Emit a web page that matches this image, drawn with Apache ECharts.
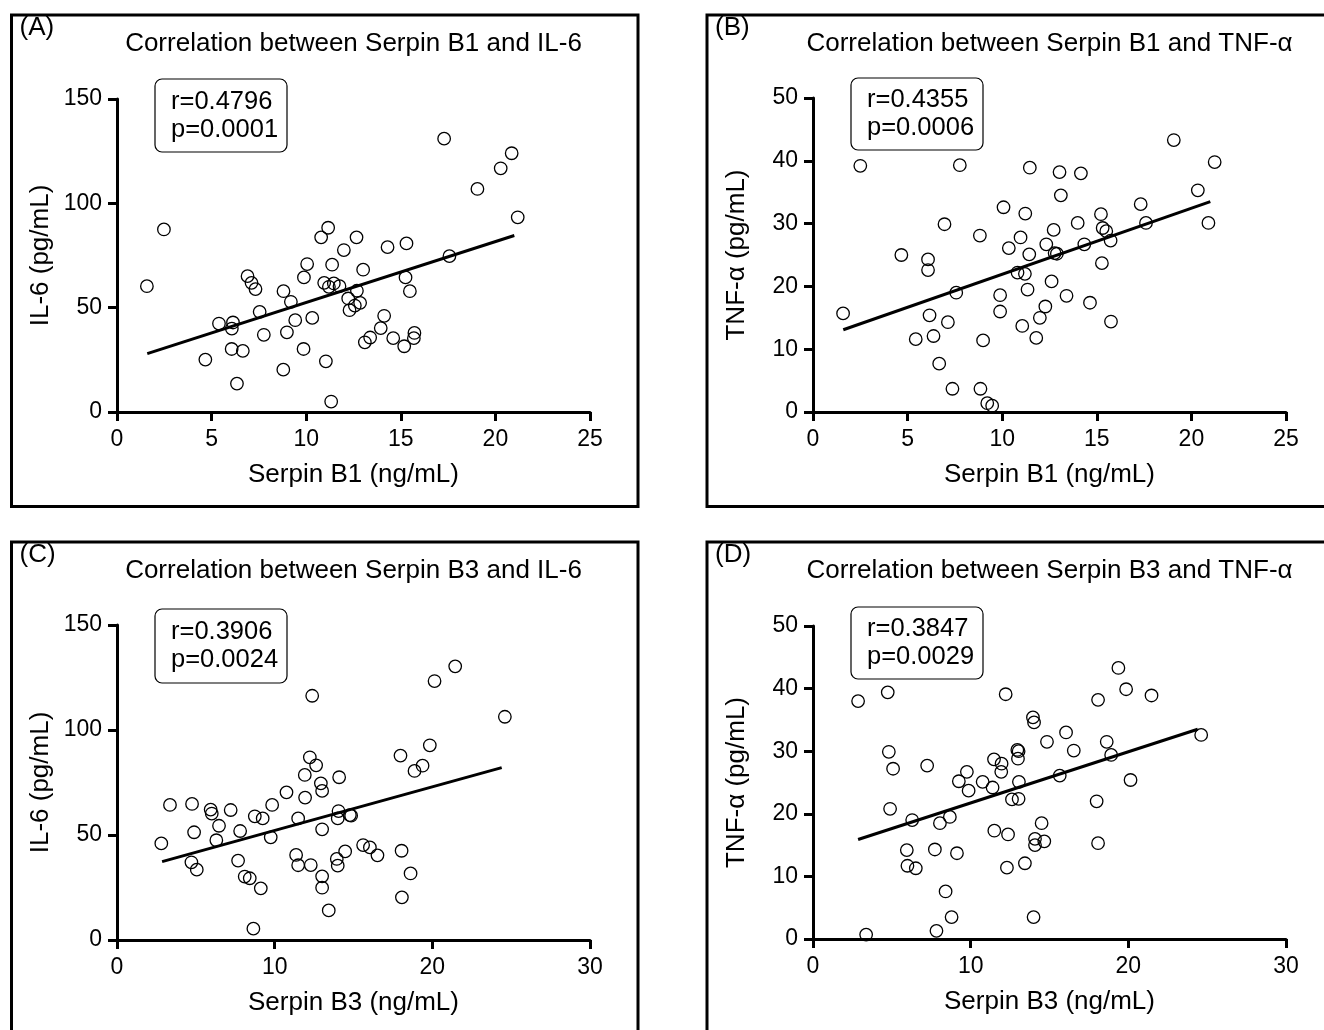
<!DOCTYPE html>
<html><head><meta charset="utf-8">
<script src="https://cdn.jsdelivr.net/npm/echarts@6/dist/echarts.min.js"></script>
<style>html,body{margin:0;padding:0;background:#fff}#c{width:1324px;height:1030px}</style>
</head><body><div id="c"></div><script>
// ---------- DATA ----------
const panelLabels = ['(A)', '(B)', '(C)', '(D)'];
const titles = ['Correlation between Serpin B1 and IL-6', 'Correlation between Serpin B1 and TNF-\u03b1',
                'Correlation between Serpin B3 and IL-6', 'Correlation between Serpin B3 and TNF-\u03b1'];
const xNames = ['Serpin B1 (ng/mL)', 'Serpin B1 (ng/mL)', 'Serpin B3 (ng/mL)', 'Serpin B3 (ng/mL)'];
const yNames = ['IL-6 (pg/mL)', 'TNF-\u03b1 (pg/mL)', 'IL-6 (pg/mL)', 'TNF-\u03b1 (pg/mL)'];
const statsText = ['r=0.4796\np=0.0001', 'r=0.4355\np=0.0006', 'r=0.3906\np=0.0024', 'r=0.3847\np=0.0029'];
const xMax = [25, 25, 30, 30];
const xInterval = [5, 5, 10, 10];
const yMax = [150, 50, 150, 50];
const yInterval = [50, 10, 50, 10];

// Panel A: Serpin B1 vs IL-6
const aX = [1.58,2.48,17.29,20.86,20.28,19.05,21.18,11.16,10.79,12.66,11.99,14.30,15.30,17.57,10.05,11.37,13.01,9.88,6.90,7.11,7.32,15.25,10.95,11.20,11.46,11.76,8.80,12.68,15.48,9.19,12.22,12.85,12.57,12.29,7.54,5.39,6.13,6.07,10.32,9.42,7.76,8.98,14.12,13.94,13.38,13.10,14.60,15.72,15.69,15.18,6.06,6.65,4.67,9.86,8.79,11.04,6.34,11.32];
const aY = [60.3,87.5,131.0,124.0,116.8,106.9,93.3,88.3,83.7,83.7,77.6,79.0,80.8,74.7,70.9,70.6,68.2,64.5,65.1,61.9,58.9,64.5,61.9,60.0,61.6,60.3,57.9,58.1,57.9,52.8,54.4,52.3,51.0,48.8,48.0,42.4,42.9,40.0,45.1,44.0,37.0,38.2,46.1,40.2,35.7,33.4,35.4,37.9,35.4,31.5,30.2,29.3,25.1,30.2,20.3,24.3,13.6,5.0];
const aFitX = [1.6, 21.0];
const aFitY = [28.0, 84.6];

// Panel B: Serpin B1 vs TNF-alpha
const bX = [1.59,2.50,7.76,11.46,13.03,14.16,19.07,21.23,13.10,20.34,10.07,11.22,15.22,17.32,6.95,13.99,17.60,20.90,8.82,12.72,15.31,15.50,10.97,12.33,14.34,15.73,10.35,11.43,12.77,12.89,4.67,6.08,6.08,15.27,10.81,11.20,7.57,12.61,9.89,11.34,13.40,14.64,6.16,7.13,9.89,12.28,11.99,15.75,11.06,6.37,5.43,8.99,11.80,6.67,7.37,8.85,9.21,9.47];
const bY = [15.7,39.2,39.3,38.9,38.2,38.0,43.3,39.8,34.5,35.3,32.6,31.6,31.5,33.1,29.9,30.1,30.1,30.1,28.1,29.0,29.3,28.8,27.8,26.7,26.7,27.3,26.1,25.1,25.3,25.2,25.0,24.3,22.6,23.7,22.2,22.0,19.0,20.8,18.6,19.5,18.5,17.4,15.4,14.3,16.0,16.8,15.0,14.4,13.7,12.1,11.6,11.4,11.8,7.7,3.7,3.7,1.4,1.0];
const bFitX = [1.6, 21.0];
const bFitY = [13.1, 33.5];

// Panel C: Serpin B3 vs IL-6
const cX = [2.81,3.36,4.76,4.89,4.72,5.06,5.94,6.01,7.21,6.47,6.30,7.81,7.68,8.10,8.42,9.12,8.65,8.74,9.24,9.84,9.75,10.75,11.93,11.91,12.23,12.63,12.38,12.93,13.01,14.09,11.49,13.01,14.05,14.00,14.77,14.85,11.36,11.49,12.29,13.01,13.01,13.43,13.94,14.00,14.47,15.61,16.04,16.52,17.98,18.05,18.62,18.07,18.87,19.38,19.84,20.14,21.45,24.60];
const cY = [46.0,64.3,64.8,51.3,37.0,33.5,62.1,60.2,61.9,54.4,47.5,51.9,37.8,30.2,29.4,24.6,5.4,58.9,57.9,64.3,48.9,70.3,67.8,78.6,87.0,83.2,116.3,74.6,71.0,77.5,57.9,52.7,61.4,57.9,59.5,59.2,40.5,35.6,35.7,30.3,24.9,14.1,38.6,35.4,42.2,45.2,44.1,40.3,87.8,42.5,31.7,20.3,80.5,83.0,92.7,123.3,130.3,106.3];
const cFitX = [2.86, 24.4];
const cFitY = [37.3, 82.1];

// Panel D: Serpin B3 vs TNF-alpha
const dX = [2.86,4.74,3.37,4.81,5.08,4.89,6.29,5.95,5.99,6.52,7.24,8.05,8.68,7.73,9.13,8.41,8.79,7.83,9.76,9.25,9.87,10.76,11.39,11.48,11.96,11.94,12.22,12.96,13.04,13.00,13.06,12.62,13.04,11.50,12.37,12.30,13.44,13.99,13.95,14.02,14.08,14.08,14.67,14.50,14.84,16.05,16.54,15.65,18.08,17.99,18.08,18.63,18.91,19.37,19.86,21.47,20.14,24.62];
const dY = [38.0,39.4,0.7,29.9,27.2,20.8,19.0,14.2,11.7,11.3,27.7,18.5,19.5,14.3,13.7,7.6,3.5,1.3,26.7,25.2,23.7,25.1,24.2,28.7,28.0,26.7,39.1,30.2,30.0,28.8,25.1,22.3,22.4,17.3,16.7,11.4,12.1,3.5,35.4,34.6,16.0,15.0,15.6,18.5,31.5,33.0,30.1,26.1,38.2,22.0,15.3,31.5,29.4,43.3,39.9,38.9,25.4,32.6];
const dFitX = [2.86, 24.4];
const dFitY = [15.9, 33.5];

const pointsX = [aX, bX, cX, dX];
const pointsY = [aY, bY, cY, dY];
const fitsX = [aFitX, bFitX, cFitX, dFitX];
const fitsY = [aFitY, bFitY, cFitY, dFitY];

// ---------- LAYOUT ----------
const FONT = '"Liberation Sans", Arial, Helvetica, sans-serif';
const grids = [
  {left: 117, top: 99, width: 473, height: 313},
  {left: 813, top: 98, width: 473, height: 314},
  {left: 117, top: 625, width: 473, height: 315},
  {left: 813, top: 626, width: 473, height: 313}
];
const panelBoxes = [
  {x: 11.5, y: 15, w: 626.5, h: 491.5},
  {x: 707, y: 15, w: 640, h: 491.5},
  {x: 11.5, y: 542, w: 626.5, h: 520},
  {x: 707, y: 542, w: 640, h: 520}
];
const statBoxes = [
  {x: 155, y: 79, w: 132, h: 73},
  {x: 851, y: 78, w: 132, h: 72},
  {x: 155, y: 609, w: 132, h: 74},
  {x: 851, y: 607, w: 132, h: 72}
];

const axisCommon = {
  axisLine: {lineStyle: {color: '#000', width: 3}},
  axisTick: {length: 9, lineStyle: {color: '#000', width: 3}},
  splitLine: {show: false},
  nameTextStyle: {color: '#000', fontSize: 26, fontFamily: FONT},
  nameLocation: 'middle'
};

const xAxes = [], yAxes = [], series = [], graphic = [];
for (let i = 0; i < 4; i++) {
  xAxes.push(Object.assign({}, axisCommon, {
    gridIndex: i, type: 'value', min: 0, max: xMax[i], interval: xInterval[i],
    name: xNames[i], nameGap: 50,
    axisLabel: {color: '#000', fontSize: 23, margin: 16, fontFamily: FONT}
  }));
  yAxes.push(Object.assign({}, axisCommon, {
    gridIndex: i, type: 'value', min: 0, max: yMax[i], interval: yInterval[i],
    name: yNames[i], nameGap: 63,
    axisLabel: {color: '#000', fontSize: 23, margin: 15, fontFamily: FONT}
  }));
  series.push({
    type: 'line', xAxisIndex: i, yAxisIndex: i,
    data: fitsX[i].map((x, k) => [x, fitsY[i][k]]),
    symbol: 'none', lineStyle: {color: '#000', width: 3}, z: 2, silent: true
  });
  series.push({
    type: 'scatter', xAxisIndex: i, yAxisIndex: i,
    data: pointsX[i].map((x, k) => [x, pointsY[i][k]]),
    symbol: 'circle', symbolSize: 12.5,
    itemStyle: {color: 'rgba(0,0,0,0)', borderColor: '#000', borderWidth: 1.3, opacity: 1},
    z: 3, silent: true
  });
  const pb = panelBoxes[i];
  graphic.push({type: 'rect', shape: {x: pb.x, y: pb.y, width: pb.w, height: pb.h},
    style: {fill: 'none', stroke: '#000', lineWidth: 3}, silent: true});
  graphic.push({type: 'text', x: pb.x + 8, y: pb.y + 13,
    style: {text: panelLabels[i], font: '26px ' + FONT, fill: '#000', textVerticalAlign: 'middle'}});
  const g = grids[i];
  graphic.push({type: 'text', x: g.left + g.width / 2, y: pb.y + 29,
    style: {text: titles[i], font: '26px ' + FONT, fill: '#000', textAlign: 'center', textVerticalAlign: 'middle'}});
  const sb = statBoxes[i];
  graphic.push({type: 'rect', shape: {x: sb.x, y: sb.y, width: sb.w, height: sb.h, r: 7},
    style: {fill: '#fff', stroke: '#000', lineWidth: 1.2}, z: 5, silent: true});
  graphic.push({type: 'text', x: sb.x + 16, y: sb.y + sb.h / 2, z: 6,
    style: {text: statsText[i], font: '25.5px ' + FONT, fill: '#000', lineHeight: 28, textVerticalAlign: 'middle'}});
}

const chart = echarts.init(document.getElementById('c'), null, {renderer: 'canvas'});
chart.setOption({
  animation: false,
  backgroundColor: '#fff',
  grid: grids,
  xAxis: xAxes,
  yAxis: yAxes,
  series: series,
  graphic: graphic
});
</script></body></html>
